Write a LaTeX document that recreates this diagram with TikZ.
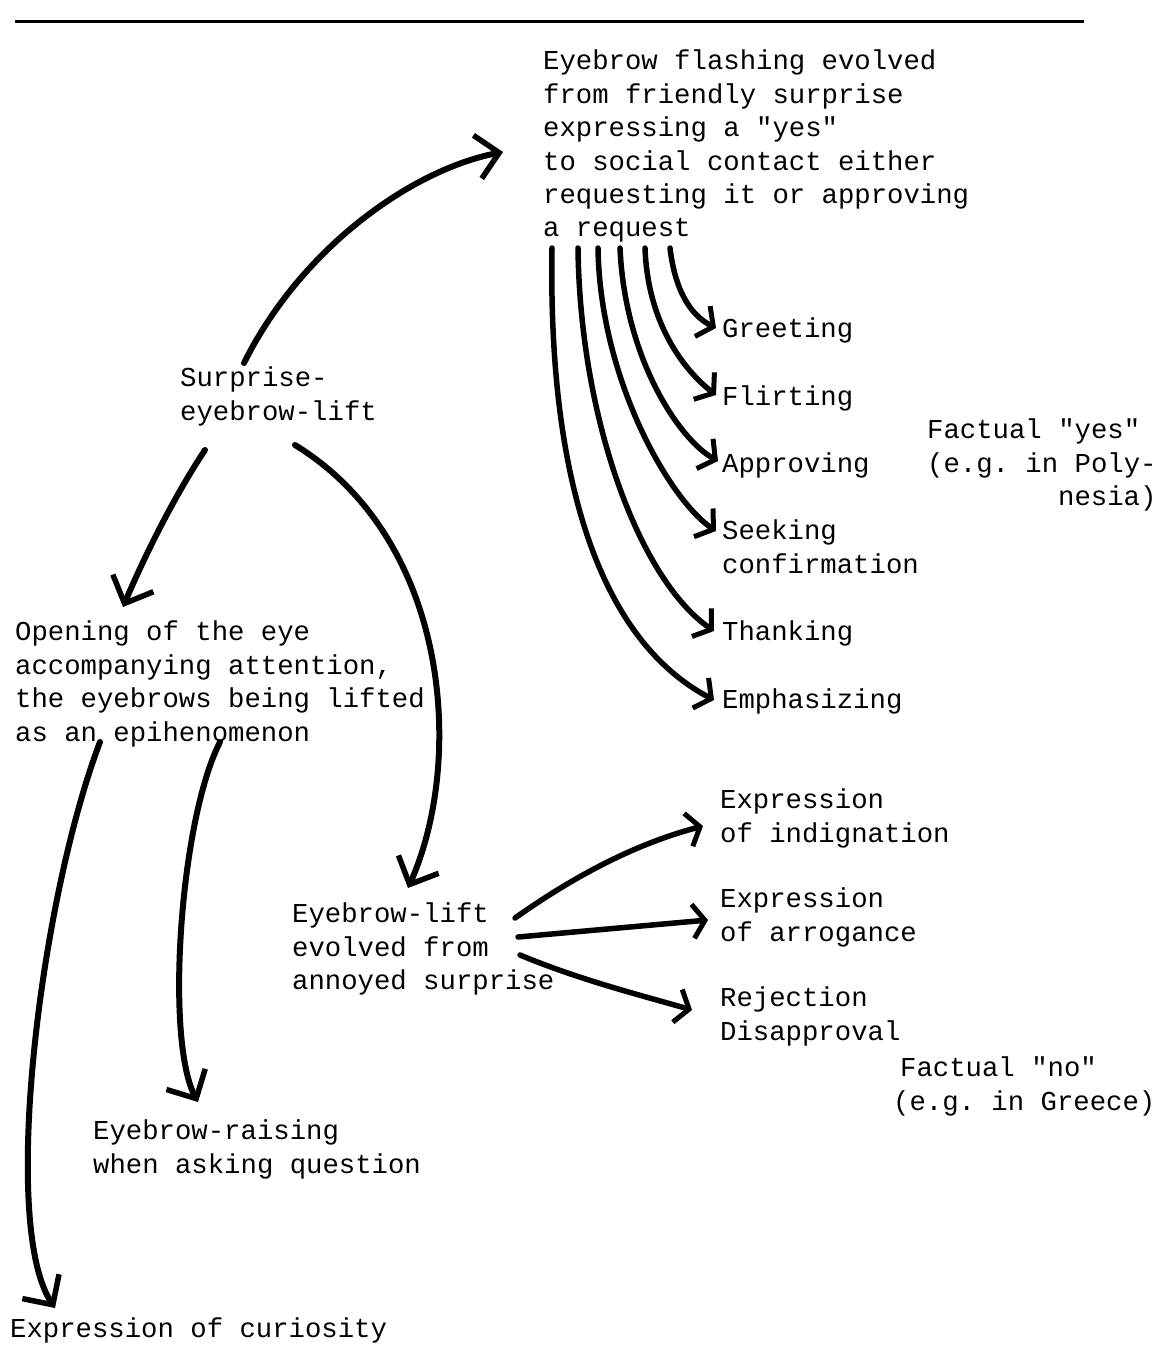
\documentclass[tikz,border=0pt]{standalone}
\usepackage{fontspec}
\setmonofont{Liberation Mono}
\usetikzlibrary{arrows.meta}
\begin{document}
\begin{tikzpicture}[x=1pt,y=-1pt,
  txt/.style={anchor=north west,inner sep=0pt,align=left,
    font=\ttfamily\frenchspacing\fontsize{27.3}{33.4}\selectfont,execute at begin node=\strut},
  conn/.style={line width=5.5pt,line cap=round,
    -{Straight Barb[length=12pt,width=34pt,line width=5pt]}},
  bigconn/.style={line width=6pt,line cap=round,
    -{Straight Barb[length=22pt,width=44pt,line width=5.5pt]}}]
\useasboundingbox (0,0) rectangle (1164,1346);
\draw[line width=3pt] (15,22) -- (1084,22);
% nodes
\node[txt] (top) at (543,50) {Eyebrow flashing evolved\\from friendly surprise\\expressing a "yes"\\to social contact either\\requesting it or approving\\a request};
\node[txt] (surp) at (180,367) {Surprise-\\eyebrow-lift};
\node[txt] (greet) at (722,314) {Greeting};
\node[txt] (flirt) at (722,382) {Flirting};
\node[txt] (appr) at (722,449) {Approving};
\node[txt] (seek) at (722,520) {Seeking\\confirmation};
\node[txt] (thank) at (722,617) {Thanking};
\node[txt] (emph) at (722,685) {Emphasizing};
\node[txt] (fyes) at (927,419) {Factual "yes"\\(e.g. in Poly-\\\hspace*{131pt}nesia)};
\node[txt] (open) at (15,621) {Opening of the eye\\accompanying attention,\\the eyebrows being lifted\\as an epihenomenon};
\node[txt] (lift) at (292,903) {Eyebrow-lift\\evolved from\\annoyed surprise};
\node[txt] (indig) at (720,789) {Expression\\of indignation};
\node[txt] (arrog) at (720,888) {Expression\\of arrogance};
\node[txt] (rej) at (720,987) {Rejection\\Disapproval};
\node[txt] (fno) at (893,1057) {\hspace*{7pt}Factual "no"\\(e.g. in Greece)};
\node[txt] (raise) at (93,1120) {Eyebrow-raising\\when asking question};
\node[txt] (curio) at (10,1314) {Expression of curiosity};
% connector end points
\coordinate (s1) at (244,363);
\coordinate (e1) at (503,152);
\coordinate (s2) at (205,450);
\coordinate (e2) at (123,607);
\coordinate (s3) at (295,445);
\coordinate (e3) at (408,888);
\coordinate (s4) at (100,742);
\coordinate (e4) at (55,1308);
\coordinate (s5) at (220,742);
\coordinate (e5) at (198,1102);
\coordinate (s6) at (515,918);
\coordinate (e6) at (703,826);
\coordinate (s7) at (518,937);
\coordinate (e7) at (708,920);
\coordinate (s8) at (520,955);
\coordinate (e8) at (692,1010);
\coordinate (f1) at (670,248);
\coordinate (f2) at (645,248);
\coordinate (f3) at (620,248);
\coordinate (f4) at (598,248);
\coordinate (f5) at (578,248);
\coordinate (f6) at (552,248);
\coordinate (g1) at (716,328);
\coordinate (g2) at (716,395);
\coordinate (g3) at (718,461);
\coordinate (g4) at (716,531);
\coordinate (g5) at (714,631);
\coordinate (g6) at (714,700);
% connectors
\draw[bigconn] (s1) .. controls (300,250) and (410,170) .. (e1);
\draw[bigconn] (s2) .. controls (175,495) and (145,555) .. (e2);
\draw[bigconn] (s3) .. controls (450,540) and (465,760) .. (e3);
\draw[bigconn] (s4) .. controls (40,900) and (0,1225) .. (e4);
\draw[bigconn] (s5) .. controls (180,820) and (165,1040) .. (e5);
\draw[conn] (s6) .. controls (590,865) and (650,840) .. (e6);
\draw[conn] (s7) -- (e7);
\draw[conn] (s8) .. controls (580,980) and (640,995) .. (e8);
\draw[conn] (f1) .. controls (675,290) and (690,315) .. (g1);
\draw[conn] (f2) .. controls (648,330) and (690,375) .. (g2);
\draw[conn] (f3) .. controls (625,360) and (680,440) .. (g3);
\draw[conn] (f4) .. controls (600,380) and (670,500) .. (g4);
\draw[conn] (f5) .. controls (580,420) and (640,580) .. (g5);
\draw[conn] (f6) .. controls (548,480) and (600,640) .. (g6);
\end{tikzpicture}
\end{document}
